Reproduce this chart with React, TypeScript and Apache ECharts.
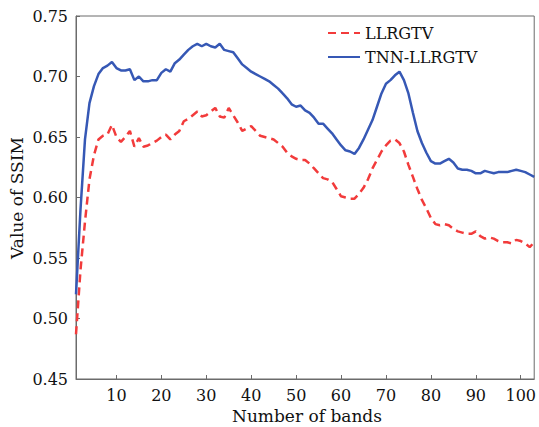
import React, { useEffect, useRef } from "react";
import * as echarts from "echarts";

const bands: number[] = Array.from({ length: 103 }, (_, i) => i + 1);

const llrgtv: number[] = [
  0.487, 0.54, 0.58, 0.615, 0.635, 0.648, 0.651, 0.652, 0.66, 0.65,
  0.646, 0.65, 0.655, 0.642, 0.649, 0.642, 0.643, 0.645, 0.647, 0.65,
  0.652, 0.648, 0.652, 0.655, 0.663, 0.665, 0.668, 0.671, 0.667, 0.668,
  0.671, 0.674, 0.667, 0.666, 0.674, 0.668, 0.662, 0.655, 0.657, 0.659,
  0.655, 0.651, 0.65, 0.649, 0.648, 0.645, 0.642, 0.637, 0.634, 0.632,
  0.631, 0.631, 0.628, 0.624, 0.62, 0.616, 0.615, 0.613, 0.607, 0.601,
  0.6, 0.599, 0.599, 0.603, 0.608, 0.615, 0.624, 0.631, 0.638, 0.643,
  0.647, 0.648, 0.645, 0.638, 0.627, 0.617, 0.607, 0.598, 0.591, 0.583,
  0.578, 0.577, 0.578, 0.577, 0.574, 0.572, 0.571, 0.57, 0.57, 0.572,
  0.568, 0.566, 0.567, 0.566, 0.564, 0.563, 0.563, 0.562, 0.565, 0.564,
  0.562, 0.559, 0.563,
];

const tnnLlrgtv: number[] = [
  0.52, 0.59, 0.648, 0.678, 0.692, 0.702, 0.707, 0.709, 0.712, 0.707,
  0.705, 0.705, 0.706, 0.697, 0.7, 0.696, 0.696, 0.697, 0.697, 0.703,
  0.706, 0.704, 0.711, 0.714, 0.718, 0.722, 0.725, 0.727, 0.725, 0.727,
  0.725, 0.724, 0.727, 0.722, 0.721, 0.72, 0.715, 0.71, 0.707, 0.704,
  0.702, 0.7, 0.698, 0.696, 0.693, 0.69, 0.686, 0.682, 0.677, 0.675,
  0.676, 0.672, 0.67, 0.666, 0.661, 0.661, 0.657, 0.653, 0.648, 0.643,
  0.639, 0.638, 0.636, 0.641, 0.648, 0.656, 0.664, 0.675, 0.686, 0.694,
  0.697, 0.701, 0.704, 0.697, 0.686, 0.67, 0.655, 0.645, 0.637, 0.63,
  0.628, 0.628, 0.63, 0.632, 0.629, 0.624, 0.623, 0.623, 0.622, 0.62,
  0.62, 0.622, 0.621, 0.62, 0.621, 0.621, 0.621, 0.622, 0.623, 0.622,
  0.621, 0.619, 0.617,
];

const xTicks: number[] = [10, 20, 30, 40, 50, 60, 70, 80, 90, 100];
const seriesNames: string[] = ["LLRGTV", "TNN-LLRGTV"];
const xTitle = "Number of bands";
const yTitle = "Value of SSIM";

const FONT = "DejaVu Serif";
const AXIS_COLOR = "#6b6b6b";
const TEXT_COLOR = "#111111";

export default function App() {
  const ref = useRef<HTMLDivElement>(null);

  useEffect(() => {
    document.body.style.margin = "0";
    if (!ref.current) return;
    const chart = echarts.init(ref.current, undefined, { renderer: "svg" });
    const option: any = {
      animation: false,
      backgroundColor: "#ffffff",
      grid: {
        left: 76,
        right: 2,
        top: 16,
        bottom: 48,
        show: true,
        borderColor: AXIS_COLOR,
        borderWidth: 1,
        backgroundColor: "transparent",
      },
      legend: {
        orient: "vertical",
        left: 327,
        top: 25,
        padding: 0,
        itemWidth: 32,
        itemHeight: 14,
        itemGap: 8,
        itemStyle: { opacity: 0 },
        textStyle: { fontFamily: FONT, fontSize: 16, color: TEXT_COLOR },
        data: seriesNames,
      },
      xAxis: {
        type: "value",
        min: 1,
        max: 103,
        axisLine: { show: true, lineStyle: { color: AXIS_COLOR } },
        axisTick: {
          show: true,
          inside: true,
          length: 4,
          customValues: xTicks,
          lineStyle: { color: AXIS_COLOR },
        },
        axisLabel: {
          customValues: xTicks,
          fontFamily: FONT,
          fontSize: 16,
          color: TEXT_COLOR,
          margin: 8,
        },
        splitLine: { show: false },
      },
      yAxis: {
        type: "value",
        min: 0.45,
        max: 0.75,
        interval: 0.05,
        axisLine: { show: true, lineStyle: { color: AXIS_COLOR } },
        axisTick: { show: true, inside: true, length: 4, lineStyle: { color: AXIS_COLOR } },
        axisLabel: {
          fontFamily: FONT,
          fontSize: 16,
          color: TEXT_COLOR,
          margin: 8,
          formatter: (v: number) => v.toFixed(2),
        },
        splitLine: { show: false },
      },
      graphic: [
        {
          type: "text",
          x: 307,
          y: 416,
          style: {
            text: xTitle,
            fontFamily: FONT,
            fontSize: 17,
            fill: TEXT_COLOR,
            textAlign: "center",
            textVerticalAlign: "middle",
          },
        },
        {
          type: "text",
          x: 17,
          y: 198,
          rotation: Math.PI / 2,
          style: {
            text: yTitle,
            fontFamily: FONT,
            fontSize: 17,
            fill: TEXT_COLOR,
            textAlign: "center",
            textVerticalAlign: "middle",
          },
        },
      ],
      series: [
        {
          name: seriesNames[0],
          type: "line",
          symbol: "none",
          data: bands.map((b, i) => [b, llrgtv[i]]),
          lineStyle: { color: "#f23b3b", width: 2.5, type: [8, 5] },
          itemStyle: { color: "#f23b3b" },
        },
        {
          name: seriesNames[1],
          type: "line",
          symbol: "none",
          data: bands.map((b, i) => [b, tnnLlrgtv[i]]),
          lineStyle: { color: "#3658b5", width: 2.5 },
          itemStyle: { color: "#3658b5" },
        },
      ],
    };
    chart.setOption(option);
    return () => chart.dispose();
  }, []);

  return <div ref={ref} style={{ width: 539, height: 427 }} />;
}
